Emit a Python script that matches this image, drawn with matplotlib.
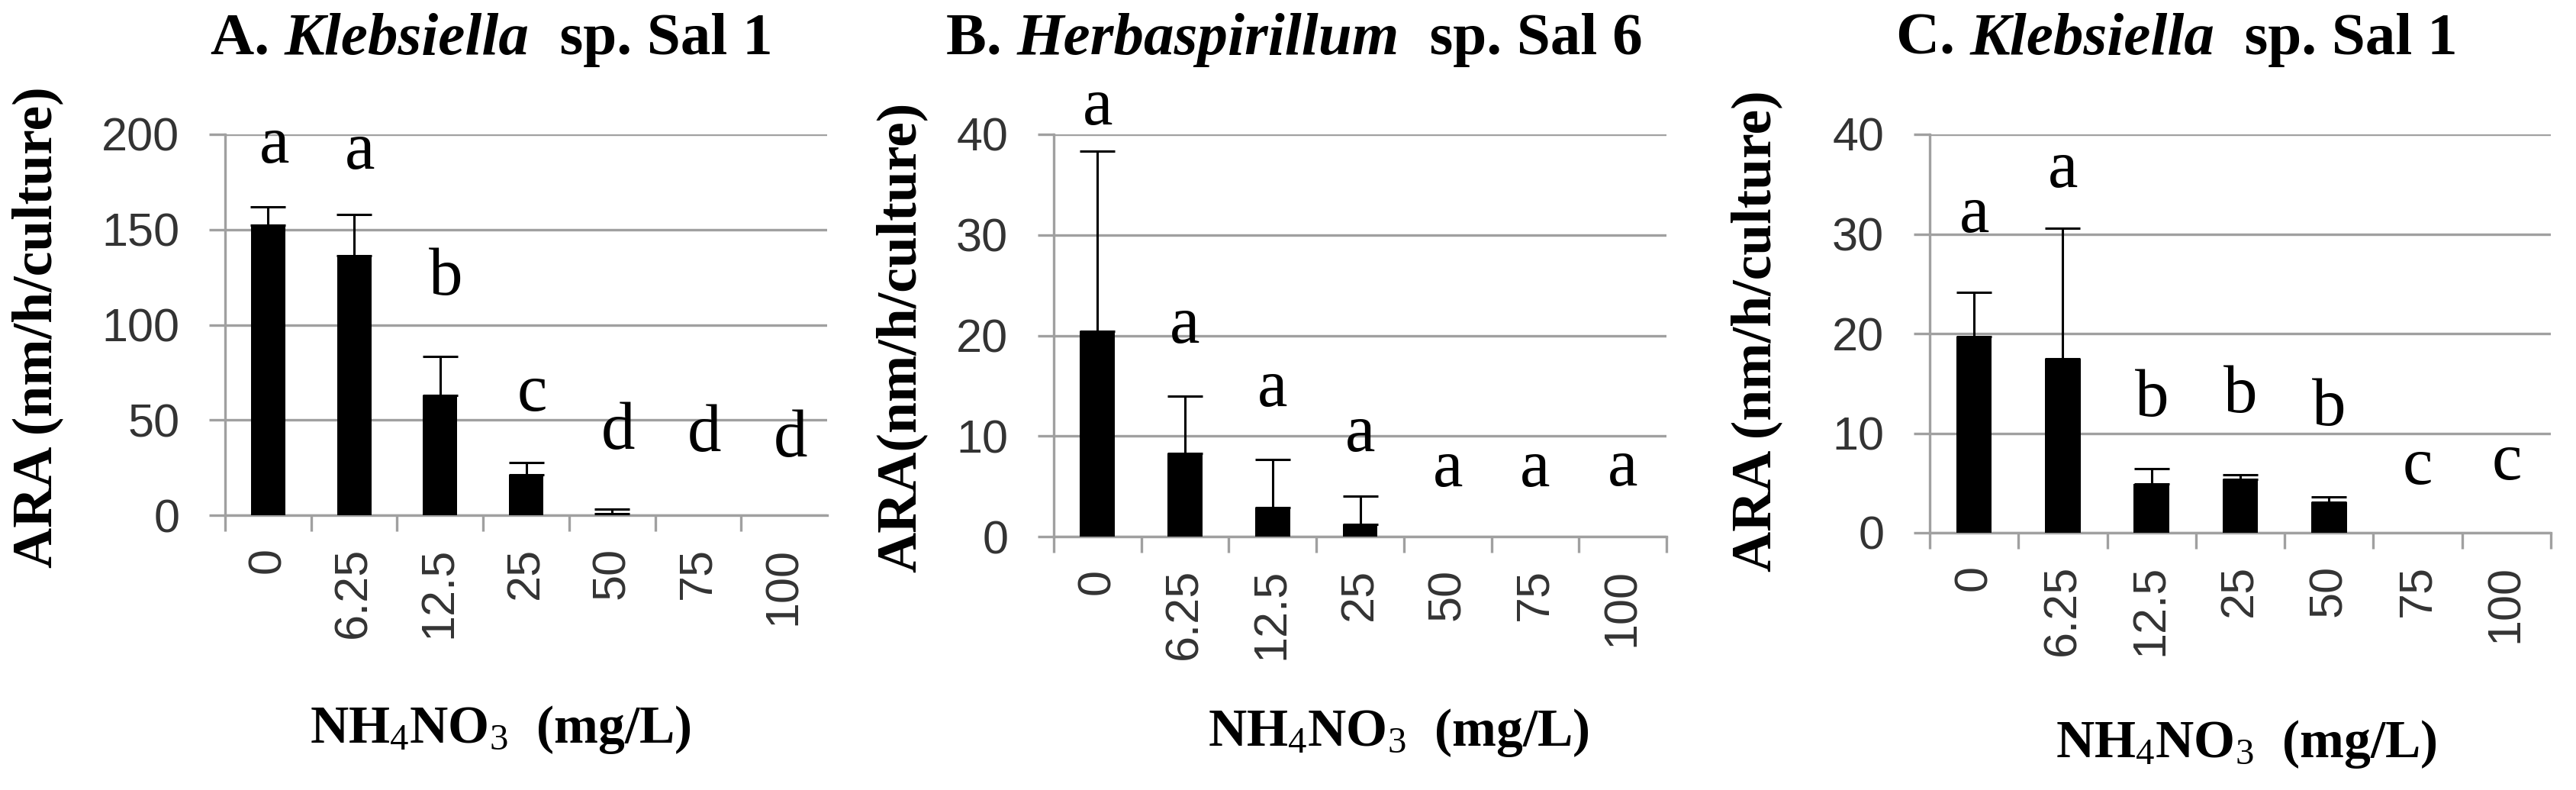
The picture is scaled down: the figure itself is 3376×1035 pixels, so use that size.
import numpy as np
import matplotlib
matplotlib.use('Agg')
import matplotlib.pyplot as plt
from matplotlib.offsetbox import TextArea, HPacker, AnchoredOffsetbox

plt.rcParams['font.family'] = ['Liberation Sans', 'DejaVu Sans']
plt.rcParams['mathtext.fontset'] = 'custom'
plt.rcParams['mathtext.rm'] = 'Liberation Serif'
plt.rcParams['mathtext.it'] = 'Liberation Serif:italic'
plt.rcParams['mathtext.bf'] = 'Liberation Serif:bold'

# NH4NO3 doses (mg/L)
doses = ['0', '6.25', '12.5', '25', '50', '75', '100']

# A. Klebsiella sp. Sal 1
ara_a = [152.3, 136.4, 62.8, 21.2, 1.0, 0, 0]
err_a = [9.6, 21.7, 20.6, 6.3, 2.2, 0, 0]
letters_a = ['a', 'a', 'b', 'c', 'd', 'd', 'd']
letter_y_a = [185, 182, 116, 55, 35, 33.6, 31]

# B. Herbaspirillum sp. Sal 6
ara_b = [20.4, 8.3, 2.9, 1.25, 0, 0, 0]
err_b = [17.9, 5.7, 4.8, 2.75, 0, 0, 0]
letters_b = ['a', 'a', 'a', 'a', 'a', 'a', 'a']
letter_y_b = [41.0, 19.3, 13.0, 8.5, 5.0, 5.0, 5.1]

# C. Klebsiella sp. Sal 1
ara_c = [19.7, 17.5, 4.9, 5.4, 3.1, 0, 0]
err_c = [4.45, 13.1, 1.5, 0.4, 0.5, 0, 0]
letters_c = ['a', 'a', 'b', 'b', 'b', 'c', 'c']
letter_y_c = [30.2, 34.7, 11.7, 12.1, 10.8, 4.9, 5.4]

W, H = 3376, 1035
grey = '#a0a0a0'
serif = 'Liberation Serif'

fig = plt.figure(figsize=(W / 100, H / 100), dpi=100)

panels = [
    dict(vals=ara_a, errs=err_a, lets=letters_a, let_y=letter_y_a,
         ymax=200, ystep=50, box=(295, 1084, 176, 675), last_tick=False, let_dx=0.07,
         title=('A. ', 'Klebsiella', '  sp. Sal 1'), title_x=644,
         ylabel='ARA (nm/h/culture)', ylab_xy=(49, 429), xlab_xy=(656, 973)),
    dict(vals=ara_b, errs=err_b, lets=letters_b, let_y=letter_y_b,
         ymax=40, ystep=10, box=(1381, 2184, 176, 703), last_tick=True, let_dx=0.0,
         title=('B. ', 'Herbaspirillum', '  sp. Sal 6'), title_x=1696,
         ylabel='ARA(nm/h/culture)', ylab_xy=(1181, 442), xlab_xy=(1833, 977)),
    dict(vals=ara_c, errs=err_c, lets=letters_c, let_y=letter_y_c,
         ymax=40, ystep=10, box=(2529, 3343, 176, 698), last_tick=True, let_dx=0.0,
         title=('C. ', 'Klebsiella', '  sp. Sal 1'), title_x=2853,
         ylabel='ARA (nm/h/culture)', ylab_xy=(2302, 434), xlab_xy=(2944, 992)),
]

x = np.arange(len(doses))
bar_w = 0.4

for p in panels:
    left, right, top, bottom = p['box']
    ax = fig.add_axes([left / W, 1 - bottom / H, (right - left) / W, (bottom - top) / H])
    vals = np.array(p['vals'])
    errs = np.array(p['errs'])

    ax.bar(x, vals, width=bar_w, color='black', zorder=3)
    m = errs > 0
    # capsize is half the cap length, in points
    cap = bar_w * (right - left) / len(doses) * 0.72 / 2
    ax.errorbar(x[m], vals[m], yerr=[np.zeros(m.sum()), errs[m]], fmt='none',
                ecolor='black', elinewidth=2.2, capsize=cap, capthick=2.2, zorder=4)

    for xi, lt, ly in zip(x, p['lets'], p['let_y']):
        ax.text(xi + p['let_dx'], ly, lt, ha='center', va='baseline', fontsize=64,
                family=serif, clip_on=False, zorder=5)

    ax.set_xlim(-0.5, len(doses) - 0.5)
    ax.set_ylim(0, p['ymax'])
    ax.set_yticks(np.arange(0, p['ymax'] + 1, p['ystep']))
    ax.grid(axis='y', color=grey, lw=2.4, zorder=0)
    ax.set_axisbelow(True)
    for s in ['top', 'right']:
        ax.spines[s].set_visible(False)
    for s in ['left', 'bottom']:
        ax.spines[s].set_color(grey)
        ax.spines[s].set_linewidth(2.4)

    ax.tick_params(axis='y', direction='out', length=15, width=2.4, color=grey,
                   pad=28, labelsize=44, labelcolor='#333333')
    ax.set_xticks(x, doses, rotation=90)
    ax.tick_params(axis='x', which='major', length=0, pad=30, labelsize=44,
                   labelcolor='#333333')
    n_b = len(doses) + 1 if p['last_tick'] else len(doses)
    ax.set_xticks(np.arange(n_b) - 0.5, minor=True)
    ax.tick_params(axis='x', which='minor', direction='out', length=15, width=2.4,
                   color=grey)

    # title with italic genus name
    t1, t2, t3 = p['title']
    parts = [TextArea(t1, textprops=dict(fontsize=57, weight='bold', family=serif)),
             TextArea(t2, textprops=dict(fontsize=57, weight='bold', style='italic', family=serif)),
             TextArea(t3, textprops=dict(fontsize=57, weight='bold', family=serif))]
    box = HPacker(children=parts, align='baseline', pad=0, sep=0)
    anc = AnchoredOffsetbox(loc='center', child=box, pad=0, borderpad=0, frameon=False,
                            bbox_to_anchor=(p['title_x'] / W, 1 - 52 / H),
                            bbox_transform=fig.transFigure)
    fig.add_artist(anc)

    yx, yy = p['ylab_xy']
    fig.text(yx / W, 1 - yy / H, p['ylabel'], rotation=90, ha='center', va='center',
             fontsize=53, weight='bold', family=serif)
    lx, ly = p['xlab_xy']
    fig.text(lx / W, 1 - ly / H, r'NH$_4$NO$_3$  (mg/L)', ha='center', va='baseline',
             fontsize=50, weight='bold', family=serif)

fig.savefig('out.png', dpi=100)
